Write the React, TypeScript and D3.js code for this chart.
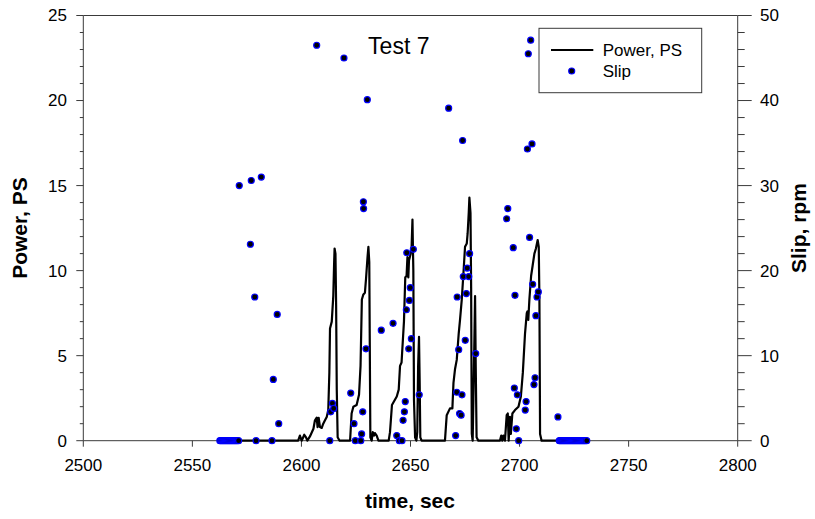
import React from "react";
import * as d3 from "d3";

// ---- data ----
const powerTime = [
  2562, 2598.5, 2599.3, 2600.1, 2601.3, 2602.1, 2602.7, 2603.9, 2605.5, 2606.2, 2607.0, 2607.4, 2607.9, 2608.5, 2609.3, 2610.0, 2610.8, 2611.6,
  2612.3, 2612.8, 2613.1, 2613.9, 2614.6, 2615.0, 2615.2, 2615.6, 2615.9, 2616.2, 2616.6, 2617.5,
  2622.3, 2623.0, 2623.8, 2625.3, 2626.4, 2627.1, 2627.7, 2628.4, 2629.1, 2629.6, 2630.3, 2630.7, 2631.1, 2631.6, 2632.2, 2632.7, 2633.3, 2633.7, 2634.5, 2635.3,
  2640.0, 2640.6, 2641.5, 2643.7, 2644.6, 2645.2, 2645.9, 2647.0, 2647.6, 2648.2, 2648.6, 2649.0, 2649.3, 2650.1, 2650.5, 2650.9, 2651.3, 2651.6, 2652.1, 2652.7, 2653.1, 2653.5, 2653.9, 2654.2, 2654.5, 2655.1,
  2665.8, 2666.6, 2668.1, 2669.2, 2669.7, 2670.4, 2671.2, 2672.1, 2672.7, 2673.5, 2674.2, 2675.0, 2675.8, 2676.2, 2676.7, 2677.0, 2677.5, 2677.8, 2678.1, 2678.5, 2679.1, 2679.6, 2679.9, 2680.3, 2681.1,
  2691.0, 2691.6, 2692.1, 2692.6, 2693.3, 2694.1, 2694.6, 2695.0, 2695.6, 2696.0, 2696.7, 2697.9, 2699.5, 2700.6, 2701.5, 2702.5, 2703.3, 2703.6, 2704.0, 2704.5, 2705.3, 2706.0, 2706.8, 2707.5, 2708.3, 2708.8, 2709.1, 2709.4, 2710.1, 2731,
];
const powerValue = [
  0, 0, 0.3, 0, 0.35, 0.2, 0, 0.25, 0.7, 1.2, 1.35, 0.8, 1.35, 0.8, 0.75, 1.0, 1.2, 1.4,
  1.8, 4.0, 6.6, 7.0, 8.5, 10.5, 11.3, 11.0, 8.0, 3.0, 0.2, 0,
  0, 1.6, 2.0, 2.1, 2.7, 4.4, 8.3, 8.6, 8.7, 9.5, 10.8, 11.4, 10.5, 0.2, 0, 0.5, 0.3, 0.45, 0.3, 0,
  0, 0.5, 2.1, 2.6, 3.0, 4.4, 4.6, 7.0, 9.6, 9.7, 10.8, 9.6, 10.6, 11.0, 11.4, 13.0, 10.0, 2.4, 0.2, 0, 0.5, 4.4, 6.1, 3.5, 0.2, 0,
  0, 1.5, 1.9, 1.9, 3.4, 4.2, 4.75, 6.3, 7.1, 8.3, 9.7, 11.4, 11.6, 12.2, 13.4, 14.3, 13.4, 9.0, 0.4, 0, 4.4, 8.5, 4.4, 0.2, 0,
  0, 0.3, 0, 0.3, 0, 1.5, 1.6, 0, 1.4, 0.4, 1.6, 1.8, 2.0, 2.6, 4.0, 6.3, 7.5, 7.6, 7.1, 8.3, 9.7, 10.3, 11.0, 11.3, 11.8, 11.4, 8.3, 0.4, 0, 0,
];

const slipTime = [
  2562.6, 2563.1, 2563.6, 2564.1, 2564.6, 2565.1, 2565.6, 2566.1, 2566.6, 2567.1, 2567.6, 2568.1, 2568.6, 2569.1, 2569.6, 2570.1, 2570.6, 2571.2,
  2571.5, 2576.6, 2577.0, 2578.6, 2579.2, 2581.6, 2586.5, 2587.1, 2588.9, 2589.6,
  2607.0, 2613.0, 2613.4, 2614.2, 2614.8, 2619.5, 2622.6, 2624.1, 2624.7, 2627.2, 2627.6, 2628.1, 2628.4, 2628.5, 2629.6, 2630.2,
  2636.6, 2642.0, 2643.7, 2644.9, 2646.1, 2646.6, 2647.2, 2647.6, 2648.1, 2648.3, 2649.2, 2649.5, 2649.9, 2650.4, 2651.3, 2654.0,
  2667.5, 2670.7, 2671.2, 2671.4, 2672.1, 2672.5, 2673.2, 2673.6, 2673.9, 2674.2, 2675.1, 2675.6, 2676.0, 2676.7, 2677.1, 2679.9,
  2694.1, 2694.6, 2697.1, 2697.6, 2697.9, 2698.5, 2699.0, 2699.6, 2702.6, 2703.0, 2703.6, 2704.0, 2704.6, 2705.1, 2705.7, 2706.0, 2706.6, 2707.1, 2707.5, 2708.0, 2708.6,
  2717.6, 2718.2, 2718.7, 2719.2, 2719.7, 2720.2, 2720.7, 2721.2, 2721.7, 2722.2, 2722.7, 2723.2, 2723.7, 2724.2, 2724.7, 2725.2, 2725.7, 2726.2, 2726.7, 2727.2, 2727.7, 2728.2, 2728.7, 2729.2, 2729.7, 2730.2, 2730.8,
];
const slipValue = [
  0, 0, 0, 0, 0, 0, 0, 0, 0, 0, 0, 0, 0, 0, 0, 0, 0, 0,
  30.0, 23.1, 30.6, 16.9, 0, 31.0, 0, 7.2, 14.85, 2.0,
  46.5, 0, 3.4, 4.4, 3.8, 45.0, 5.6, 2.0, 0, 0, 0.8, 3.4, 28.1, 27.3, 10.8, 40.1,
  13.0, 13.8, 0.6, 0, 0, 2.4, 3.4, 4.6, 15.4, 22.1, 10.8, 16.5, 18.0, 12.0, 22.5, 5.4,
  39.1, 0.6, 5.7, 16.9, 10.7, 3.2, 3.0, 5.4, 35.3, 19.3, 11.8, 17.3, 20.3, 19.3, 22.0, 10.25,
  26.1, 27.3, 22.7, 6.2, 17.1, 1.4, 5.4, 0, 3.6, 4.6, 34.3, 45.5, 23.9, 47.1, 34.9, 18.4, 6.6, 7.4, 14.7, 16.9, 17.5,
  2.8, 0, 0, 0, 0, 0, 0, 0, 0, 0, 0, 0, 0, 0, 0, 0, 0, 0, 0, 0, 0, 0, 0, 0, 0, 0, 0,
];

const xTicks = [2500, 2550, 2600, 2650, 2700, 2750, 2800];
const powerTicks = [0, 5, 10, 15, 20, 25];
const slipTicks = [0, 10, 20, 30, 40, 50];

const titleText = "Test 7";
const xLabel = "time, sec";
const yLeftLabel = "Power, PS";
const yRightLabel = "Slip, rpm";
const legendLabels = ["Power, PS", "Slip"];

// ---- layout ----
const W = 815, H = 519;
const L = 83.3, R = 737.7, T = 15.5, B = 440.7;
const FONT = "'Liberation Sans', Arial, sans-serif";
const AXIS = "#3a3a3a";

export default function App() {
  const x = d3.scaleLinear().domain([2500, 2800]).range([L, R]);
  const yP = d3.scaleLinear().domain([0, 25]).range([B, T]);
  const yS = d3.scaleLinear().domain([0, 50]).range([B, T]);

  const powerData = powerTime.map((t, i) => [t, powerValue[i]] as [number, number]);
  const line = d3.line<[number, number]>().x(d => x(d[0])).y(d => yP(d[1]));

  const powerMinor = d3.range(0, 26, 1).filter(v => v % 5 !== 0);
  const slipMinor = d3.range(0, 51, 2).filter(v => v % 10 !== 0);

  return (
    <svg width={W} height={H} style={{ position: "absolute", left: 0, top: 0, background: "#fff" }} fontFamily={FONT}>
      <rect x={0} y={0} width={W} height={H} fill="#fff" />
      {/* frame */}
      <line x1={L} x2={R} y1={T} y2={T} stroke={AXIS} strokeWidth={1} />
      <line x1={L} x2={R} y1={B} y2={B} stroke={AXIS} strokeWidth={1} />
      <line x1={L} x2={L} y1={T} y2={B} stroke={AXIS} strokeWidth={1} />
      <line x1={R} x2={R} y1={T} y2={B} stroke={AXIS} strokeWidth={1} />

      {/* x ticks */}
      {xTicks.map(t => (
        <g key={"xt" + t}>
          <line x1={x(t)} x2={x(t)} y1={B} y2={B + 6} stroke={AXIS} />
          <text x={x(t)} y={470.5} textAnchor="middle" fontSize={17} fill="#000">{t}</text>
        </g>
      ))}
      {/* left ticks */}
      {powerTicks.map(v => (
        <g key={"pt" + v}>
          <line x1={L - 7} x2={L} y1={yP(v)} y2={yP(v)} stroke={AXIS} />
          <text x={67} y={yP(v)} dy="0.35em" textAnchor="end" fontSize={17} fill="#000">{v}</text>
        </g>
      ))}
      {powerMinor.map(v => (
        <line key={"pm" + v} x1={L - 3.5} x2={L} y1={yP(v)} y2={yP(v)} stroke={AXIS} />
      ))}
      {/* right ticks */}
      {slipTicks.map(v => (
        <g key={"st" + v}>
          <line x1={R} x2={R + 14} y1={yS(v)} y2={yS(v)} stroke={AXIS} />
          <text x={760} y={yS(v)} dy="0.35em" textAnchor="start" fontSize={17} fill="#000">{v}</text>
        </g>
      ))}
      {slipMinor.map(v => (
        <line key={"sm" + v} x1={R} x2={R + 7} y1={yS(v)} y2={yS(v)} stroke={AXIS} />
      ))}

      {/* power line */}
      <path d={line(powerData) || ""} fill="none" stroke="#000" strokeWidth={2.2} strokeLinejoin="round" />

      {/* slip points */}
      {slipTime.map((t, i) => (
        <circle key={"s" + i} cx={x(t)} cy={yS(slipValue[i])} r={3} fill="#000" stroke="#0000ff" strokeWidth={1.2} />
      ))}

      {/* title */}
      <text x={398.8} y={54} textAnchor="middle" fontSize={23} fill="#000">{titleText}</text>

      {/* legend */}
      <rect x={539} y={28.3} width={162.7} height={64.4} fill="#fff" stroke={AXIS} strokeWidth={1} />
      <line x1={551} x2={593.3} y1={50} y2={50} stroke="#000" strokeWidth={2.2} />
      <text x={602.7} y={56} fontSize={17} fill="#000">{legendLabels[0]}</text>
      <circle cx={571.7} cy={71} r={3} fill="#000" stroke="#0000ff" strokeWidth={1.2} />
      <text x={602.7} y={77} fontSize={17} fill="#000">{legendLabels[1]}</text>

      {/* axis titles */}
      <text x={410} y={508} textAnchor="middle" fontSize={21} fontWeight="bold" fill="#000">{xLabel}</text>
      <text transform={`translate(27,${(T + B) / 2}) rotate(-90)`} textAnchor="middle" fontSize={21} fontWeight="bold" fill="#000">{yLeftLabel}</text>
      <text transform={`translate(806,${(T + B) / 2}) rotate(-90)`} textAnchor="middle" fontSize={21} fontWeight="bold" fill="#000">{yRightLabel}</text>
    </svg>
  );
}
